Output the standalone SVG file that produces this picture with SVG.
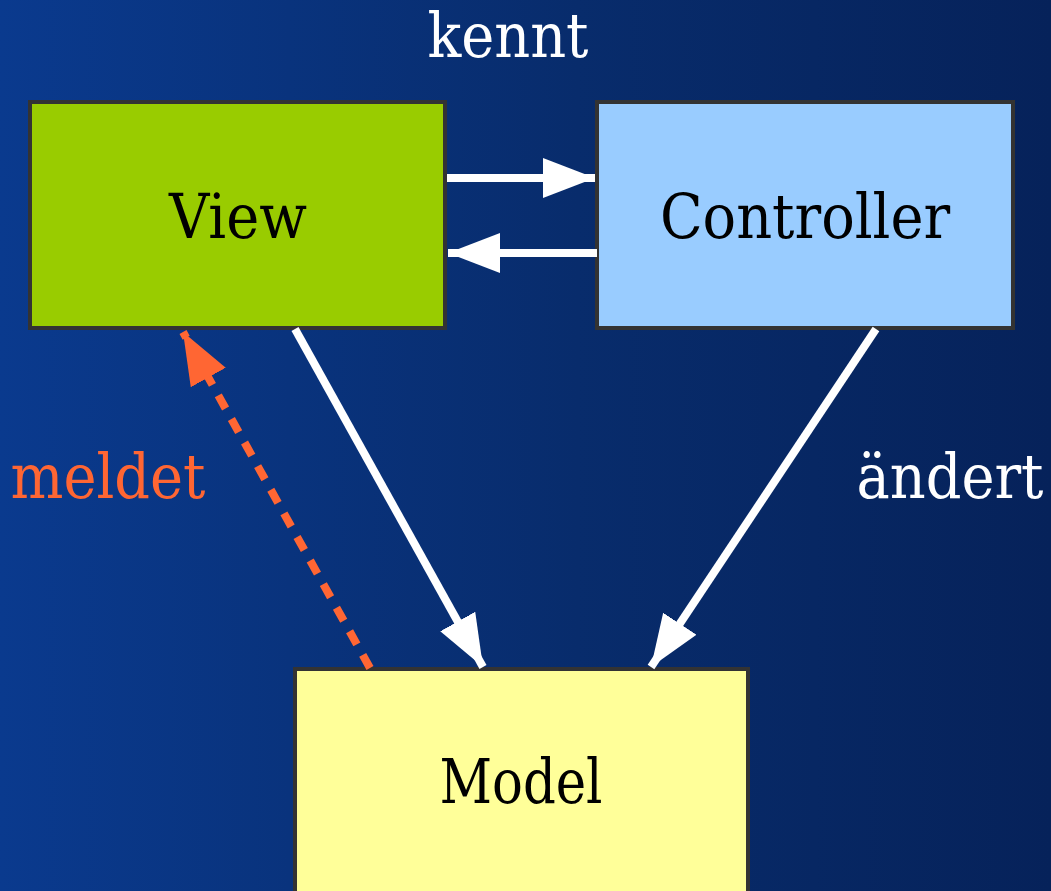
<svg xmlns="http://www.w3.org/2000/svg" width="1051" height="891" viewBox="0 0 1051 891">
  <defs>
    <linearGradient id="bg" x1="0" y1="0" x2="1" y2="0">
      <stop offset="0" stop-color="#0a3a8e"/>
      <stop offset="0.55" stop-color="#082c6c"/>
      <stop offset="1" stop-color="#06225a"/>
    </linearGradient>
    <marker id="headWhite" markerUnits="userSpaceOnUse" markerWidth="56" markerHeight="46" refX="52" refY="22" orient="auto">
      <polygon points="0,2 52,22 0,42" fill="#ffffff"/>
    </marker>
    <marker id="headOrange" markerUnits="userSpaceOnUse" markerWidth="56" markerHeight="46" refX="52" refY="22" orient="auto">
      <polygon points="0,2 52,22 0,42" fill="#ff6633"/>
    </marker>
  </defs>
  <style>
    .box { stroke: #333333; stroke-width: 4; }
    .label { font-family: "DejaVu Serif Condensed", "DejaVu Serif", "Liberation Serif", serif; font-stretch: condensed; font-size: 62px; text-anchor: middle; }
    .edge { fill: none; stroke: #ffffff; stroke-width: 8; }
  </style>

  <rect x="0" y="0" width="1051" height="891" fill="url(#bg)"/>

  <g id="view">
    <rect class="box" x="30" y="102" width="415" height="226" fill="#99cc00"/>
    <text class="label" x="238" y="238" fill="#000000">View</text>
  </g>

  <g id="controller">
    <rect class="box" x="597" y="102" width="416" height="226" fill="#99ccff"/>
    <text class="label" x="805" y="238" fill="#000000">Controller</text>
  </g>

  <g id="model">
    <rect class="box" x="295" y="669" width="453" height="240" fill="#ffff99"/>
    <text class="label" x="521" y="803" fill="#000000" textLength="163" lengthAdjust="spacingAndGlyphs">Model</text>
  </g>

  <g id="connectors">
    <line class="edge" x1="447" y1="178" x2="595" y2="178" marker-end="url(#headWhite)"/>
    <line class="edge" x1="597" y1="253" x2="448" y2="253" marker-end="url(#headWhite)"/>
    <line class="edge" x1="295" y1="329" x2="483" y2="667" marker-end="url(#headWhite)"/>
    <line class="edge" x1="876" y1="329" x2="651" y2="667" marker-end="url(#headWhite)"/>
    <line x1="370" y1="668" x2="183" y2="332" stroke="#ff6633" stroke-width="8" stroke-dasharray="15 12" fill="none" marker-end="url(#headOrange)"/>
  </g>

  <g id="labels">
    <text class="label" x="508" y="57" fill="#ffffff">kennt</text>
    <text class="label" x="108" y="498" fill="#ff6633">meldet</text>
    <text class="label" x="950" y="498" fill="#ffffff">ändert</text>
  </g>
</svg>
